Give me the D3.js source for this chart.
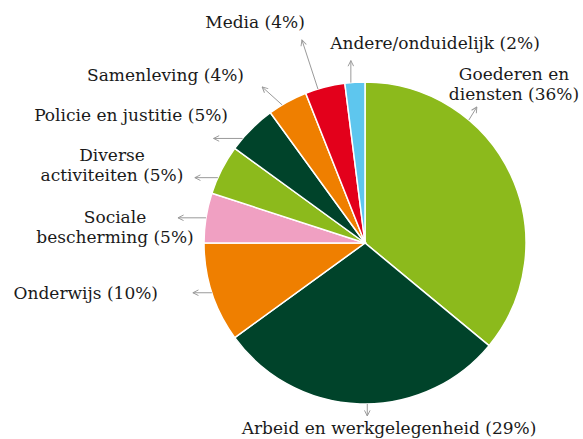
<!DOCTYPE html>
<html>
<head>
<meta charset="utf-8">
<script src="https://cdn.jsdelivr.net/npm/d3@7"></script>
<style>
  body { margin: 0; background: #fff; }
  svg text { font-family: "DejaVu Serif", "Liberation Serif", serif; font-size: 17px; fill: #1a1a1a; }
</style>
</head>
<body>
<div id="chart"></div>
<script>
// data, clockwise from 12 o'clock
var categories = ["Goederen en diensten", "Arbeid en werkgelegenheid", "Onderwijs",
  "Sociale bescherming", "Diverse activiteiten", "Policie en justitie",
  "Samenleving", "Media", "Andere/onduidelijk"];
var values = [36, 29, 10, 5, 5, 5, 4, 4, 2];
var colors = ["#8cba1c", "#00432a", "#ef7f00", "#f0a0c2", "#8cba1c", "#00432a",
  "#ef7f00", "#e3001b", "#5ec6ee"];

// label text lines per slice
var labelLines = [
  ["Goederen en", "diensten (36%)"],
  ["Arbeid en werkgelegenheid (29%)"],
  ["Onderwijs (10%)"],
  ["Sociale", "bescherming (5%)"],
  ["Diverse", "activiteiten (5%)"],
  ["Policie en justitie (5%)"],
  ["Samenleving (4%)"],
  ["Media (4%)"],
  ["Andere/onduidelijk (2%)"]
];

// where the arrow leaves the slice (fraction of slice angle), arrow vector, label anchor
var layout = [
  { f: 0.31, dx: 8, dy: -13, x: 514, y: 80, anchor: "middle" },
  { f: 0.475, dx: 0, dy: 12, x: 389, y: 434, anchor: "middle" },
  { f: 0.5, dx: -19, dy: 0, x: 158, y: 299, anchor: "end" },
  { f: 0.5, dx: -28, dy: 0, x: 115, y: 223, anchor: "middle" },
  { f: 0.33, dx: -23, dy: 0, x: 112, y: 161, anchor: "middle" },
  { f: 0.25, dx: -29, dy: 0, x: 228, y: 121, anchor: "end" },
  { f: 0.35, dx: -20, dy: -18, x: 244, y: 81, anchor: "end" },
  { f: 0.32, dx: -16, dy: -49, x: 255, y: 28, anchor: "middle" },
  { f: 0.3, dx: 0, dy: -22, x: 435, y: 49, anchor: "middle" }
];

var w = 583, h = 439;
var cx = 365, cy = 243, r = 161;
var lineH = 20;

var svg = d3.select("#chart").append("svg")
  .attr("width", w)
  .attr("height", h);

svg.append("defs").append("marker")
  .attr("id", "arrow")
  .attr("viewBox", "0 0 10 10")
  .attr("refX", 9)
  .attr("refY", 5)
  .attr("markerWidth", 7)
  .attr("markerHeight", 7)
  .attr("markerUnits", "userSpaceOnUse")
  .attr("orient", "auto")
  .append("path")
  .attr("d", "M1,1 L9,5 L1,9")
  .attr("fill", "none")
  .attr("stroke", "#9a9a9a")
  .attr("stroke-width", 1.4);

var pie = d3.pie().sort(null).value(function(d) { return d; });
var arcs = pie(values);

var arc = d3.arc().innerRadius(0).outerRadius(r);

var g = svg.append("g").attr("transform", "translate(" + cx + "," + cy + ")");

g.selectAll("path.slice")
  .data(arcs)
  .enter()
  .append("path")
  .attr("class", "slice")
  .attr("d", arc)
  .attr("fill", function(d, i) { return colors[i]; })
  .attr("stroke", "#fff")
  .attr("stroke-width", 1.5);

// arrows from the rim outward
function rimPoint(d, i) {
  var a = d.startAngle + (d.endAngle - d.startAngle) * layout[i].f;
  return [cx + r * Math.sin(a), cy - r * Math.cos(a)];
}

svg.selectAll("line.arrow")
  .data(arcs)
  .enter()
  .append("line")
  .attr("class", "arrow")
  .attr("x1", function(d, i) { return rimPoint(d, i)[0]; })
  .attr("y1", function(d, i) { return rimPoint(d, i)[1]; })
  .attr("x2", function(d, i) { return rimPoint(d, i)[0] + layout[i].dx; })
  .attr("y2", function(d, i) { return rimPoint(d, i)[1] + layout[i].dy; })
  .attr("stroke", "#9a9a9a")
  .attr("stroke-width", 1)
  .attr("marker-end", "url(#arrow)");

var labels = svg.selectAll("text.label")
  .data(labelLines)
  .enter()
  .append("text")
  .attr("class", "label")
  .attr("text-anchor", function(d, i) { return layout[i].anchor; });

labels.selectAll("tspan")
  .data(function(d, i) { return d.map(function(s) { return { s: s, i: i }; }); })
  .enter()
  .append("tspan")
  .attr("x", function(d) { return layout[d.i].x; })
  .attr("y", function(d, j) { return layout[d.i].y + j * lineH; })
  .text(function(d) { return d.s; });
</script>
</body>
</html>
